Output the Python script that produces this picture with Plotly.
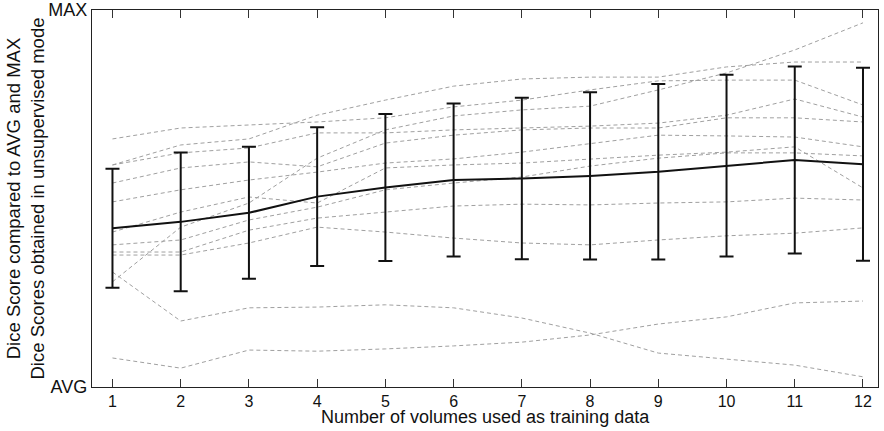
import plotly.graph_objects as go

volumes = [1, 2, 3, 4, 5, 6, 7, 8, 9, 10, 11, 12]

# Individual volume curves (0 = AVG, 1 = MAX)
curve_01 = [0.077, 0.050, 0.098, 0.095, 0.101, 0.109, 0.119, 0.138, 0.167, 0.186, 0.223, 0.228]
curve_02 = [0.305, 0.175, 0.210, 0.212, 0.218, 0.210, 0.183, 0.143, 0.090, 0.074, 0.058, 0.027]
curve_03 = [0.279, 0.424, 0.488, 0.607, 0.682, 0.719, 0.735, 0.745, 0.788, 0.833, 0.894, 0.966]
curve_04 = [0.589, 0.642, 0.658, 0.721, 0.761, 0.798, 0.817, 0.822, 0.822, 0.849, 0.862, 0.862]
curve_05 = [0.658, 0.687, 0.695, 0.703, 0.714, 0.743, 0.761, 0.788, 0.812, 0.814, 0.814, 0.748]
curve_06 = [0.589, 0.621, 0.634, 0.674, 0.674, 0.682, 0.687, 0.692, 0.700, 0.721, 0.764, 0.716]
curve_07 = [0.541, 0.581, 0.597, 0.584, 0.647, 0.668, 0.682, 0.687, 0.687, 0.714, 0.714, 0.703]
curve_08 = [0.491, 0.523, 0.549, 0.570, 0.594, 0.605, 0.623, 0.645, 0.668, 0.666, 0.663, 0.637]
curve_09 = [0.411, 0.464, 0.504, 0.488, 0.581, 0.589, 0.594, 0.605, 0.615, 0.623, 0.637, 0.528]
curve_10 = [0.377, 0.390, 0.443, 0.477, 0.523, 0.541, 0.557, 0.586, 0.607, 0.621, 0.621, 0.613]
curve_11 = [0.358, 0.358, 0.416, 0.448, 0.464, 0.480, 0.485, 0.483, 0.488, 0.491, 0.501, 0.496]
curve_12 = [0.350, 0.350, 0.382, 0.424, 0.411, 0.395, 0.382, 0.377, 0.390, 0.401, 0.408, 0.422]

curves = [curve_01, curve_02, curve_03, curve_04, curve_05, curve_06,
          curve_07, curve_08, curve_09, curve_10, curve_11, curve_12]

mean_score = [0.421, 0.438, 0.462, 0.505, 0.529, 0.549, 0.553, 0.560, 0.571, 0.587, 0.602, 0.591]
std_score = [0.158, 0.184, 0.175, 0.184, 0.195, 0.203, 0.214, 0.222, 0.233, 0.241, 0.248, 0.256]

y_tick_vals = [0, 1]
y_tick_text = ["AVG", "MAX"]

x_title = "Number of volumes used as training data"
y_title = "Dice Score compared to AVG and MAX<br>Dice Scores obtained in unsupervised mode"

FONT = "Liberation Sans, Arial, Helvetica, sans-serif"

fig = go.Figure()
for c in curves:
    fig.add_trace(go.Scatter(
        x=volumes, y=c, mode="lines",
        line=dict(color="#a0a0a0", width=1, dash="4px,3px"),
        hoverinfo="skip", showlegend=False))

fig.add_trace(go.Scatter(
    x=volumes, y=mean_score, mode="lines",
    line=dict(color="#111111", width=2),
    error_y=dict(type="data", array=std_score, visible=True,
                 color="#111111", thickness=2, width=7),
    showlegend=False))

axis_common = dict(showline=True, linecolor="#222222", linewidth=1.2, mirror="ticks",
                   showgrid=False, zeroline=False, ticks="inside", tickcolor="#333333",
                   tickwidth=1, automargin=False)

fig.update_xaxes(range=[0.7, 12.22], tickvals=volumes, ticklen=8,
                 tickfont=dict(family=FONT, size=16, color="#111111"), **axis_common)
fig.update_yaxes(range=[0, 1], tickvals=y_tick_vals, ticktext=y_tick_text, ticklen=0,
                 tickfont=dict(family=FONT, size=18, color="#111111"),
                 ticklabelstandoff=0, **axis_common)

fig.add_annotation(text=x_title, xref="paper", yref="paper", x=0.5, y=0,
                   xanchor="center", yanchor="middle", yshift=-30, showarrow=False,
                   font=dict(family=FONT, size=18, color="#111111"))
fig.add_annotation(text=y_title, xref="paper", yref="paper", x=0, y=0.5,
                   xanchor="center", yanchor="middle", xshift=-67, textangle=-90,
                   showarrow=False,
                   font=dict(family=FONT, size=18.5, color="#111111"))

fig.update_layout(width=884, height=431, plot_bgcolor="white", paper_bgcolor="white",
                  margin=dict(l=92, r=6, t=10, b=44), showlegend=False)

fig.write_html("out.html", config={"displayModeBar": False},
               post_script="document.body.style.margin='0';document.body.style.overflow='hidden';")
